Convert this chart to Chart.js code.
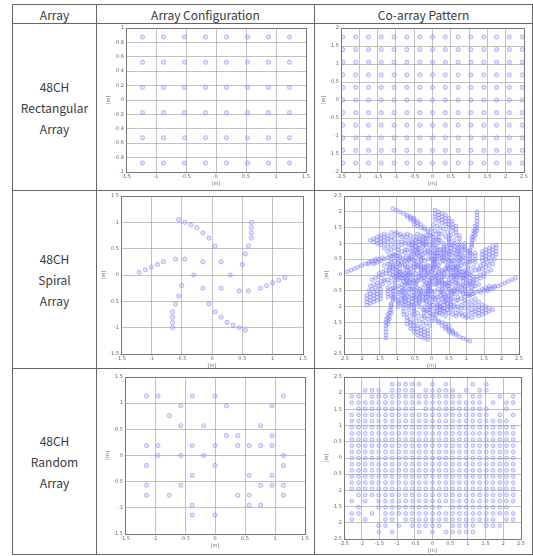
<!DOCTYPE html>
<html>
<head>
<meta charset="utf-8">
<script src="https://cdn.jsdelivr.net/npm/chart.js@4.4.0/dist/chart.umd.min.js"></script>
<style>
body { margin: 0; background: #fff; font-family: "Noto Sans CJK KR", "Noto Sans", sans-serif; color: #333; }
#wrap { position: relative; width: 533px; height: 556px; overflow: hidden; }
table { position: absolute; left: 12px; top: 4px; border-collapse: collapse; table-layout: fixed; width: 520px; }
td, th { border: 1px solid #666; padding: 0; text-align: center; font-weight: normal; font-size: 12px; color: #3a3a3a; }
.name { line-height: 21px; }
canvas.plot { position: absolute; }
</style>
</head>
<body>
<div id="wrap">
  <table>
    <col style="width:84px"><col style="width:218px"><col style="width:218px">
    <tr style="height:19px"><th>Array</th><th>Array Configuration</th><th>Co-array Pattern</th></tr>
    <tr style="height:167px"><td class="name">48CH<br>Rectangular<br>Array</td><td></td><td></td></tr>
    <tr style="height:178px"><td class="name">48CH<br>Spiral<br>Array</td><td></td><td></td></tr>
    <tr style="height:186px"><td class="name">48CH<br>Random<br>Array</td><td></td><td></td></tr>
  </table>
  <canvas class="plot" id="rectCfg"></canvas>
  <canvas class="plot" id="rectCo"></canvas>
  <canvas class="plot" id="spiralCfg"></canvas>
  <canvas class="plot" id="spiralCo"></canvas>
  <canvas class="plot" id="randomCfg"></canvas>
  <canvas class="plot" id="randomCo"></canvas>
</div>
<script>
// element positions in metres
const rectX = [-1.225, -0.875, -0.525, -0.175, 0.175, 0.525, 0.875, 1.225];
const rectY = [-0.875, -0.525, -0.175, 0.175, 0.525, 0.875];

const spiralX = [-0.55, -0.45, -0.35, -0.25, -0.15, -0.05, 0.05,
  0.65, 0.65, 0.65, 0.65, 0.6, 0.55, 0.5, 0.3, 0.15, -0.15,
  -0.45, -0.6, -0.8, -0.9, -1.0, -1.1, -1.2,
  0.55, 0.45, 0.35, 0.25, 0.15, 0.05, -0.05,
  -0.65, -0.65, -0.65, -0.65, -0.6, -0.55, -0.5, -0.3, -0.15, 0.15,
  0.45, 0.6, 0.8, 0.9, 1.0, 1.1, 1.2];
const spiralY = [1.05, 1.0, 0.95, 0.9, 0.8, 0.7, 0.55,
  1.0, 0.9, 0.8, 0.7, 0.55, 0.4, 0.2, 0, 0.25, 0.25,
  0.3, 0.3, 0.25, 0.2, 0.15, 0.1, 0.05,
  -1.05, -1.0, -0.95, -0.9, -0.8, -0.7, -0.55,
  -1.0, -0.9, -0.8, -0.7, -0.55, -0.4, -0.2, 0, -0.25, -0.25,
  -0.3, -0.3, -0.25, -0.2, -0.15, -0.1, -0.05];

const randomX = [-1.14, -0.95, -0.38, 0, 1.14,
  -0.57, 0.19, 0.95,
  -0.76,
  -0.57, -0.19, 0.76,
  0.19, 0.38, 0.95,
  -1.14, -0.95, -0.38, 0, 0.38, 0.57, 0.76, 0.95,
  -0.95, -0.57, -0.19, 1.14,
  -1.14, 0, 1.14,
  -0.38, 0.57, 0.95,
  -1.14, -0.57, 0.76, 0.95, 1.14,
  -1.14, -0.76, 0.38, 0.57, 1.14,
  -0.38, 0.57, 0.76,
  -0.38, 0];
const randomY = [1.14, 1.14, 1.14, 1.14, 1.14,
  0.95, 0.95, 0.95,
  0.76,
  0.57, 0.57, 0.57,
  0.38, 0.38, 0.38,
  0.19, 0.19, 0.19, 0.19, 0.19, 0.19, 0.19, 0.19,
  0, 0, 0, 0,
  -0.19, -0.19, -0.19,
  -0.38, -0.38, -0.38,
  -0.57, -0.57, -0.57, -0.57, -0.57,
  -0.76, -0.76, -0.76, -0.76, -0.76,
  -0.95, -0.95, -0.95,
  -1.14, -1.14];

// tick labels
const ticks10 = [-1, -0.8, -0.6, -0.4, -0.2, 0, 0.2, 0.4, 0.6, 0.8, 1];
const ticks15 = [-1.5, -1, -0.5, 0, 0.5, 1, 1.5];
const ticks20 = [-2, -1.5, -1, -0.5, 0, 0.5, 1, 1.5, 2];
const ticks25 = [-2.5, -2, -1.5, -1, -0.5, 0, 0.5, 1, 1.5, 2, 2.5];

function toPoints(xs, ys) {
  return xs.map((x, i) => ({ x: x, y: ys[i] }));
}

function gridPoints(xs, ys) {
  const pts = [];
  ys.forEach(y => xs.forEach(x => pts.push({ x: x, y: y })));
  return pts;
}

// co-array = set of all pairwise position differences
function coArray(pts) {
  const seen = new Set();
  const out = [];
  pts.forEach(a => pts.forEach(b => {
    const dx = Math.round((a.x - b.x) * 1000) / 1000;
    const dy = Math.round((a.y - b.y) * 1000) / 1000;
    const key = dx + ',' + dy;
    if (!seen.has(key)) { seen.add(key); out.push({ x: dx, y: dy }); }
  }));
  return out;
}

const framePlugin = {
  id: 'frame',
  afterDraw(chart) {
    const a = chart.chartArea, ctx = chart.ctx;
    ctx.save();
    ctx.strokeStyle = '#777';
    ctx.lineWidth = 1;
    ctx.strokeRect(Math.round(a.left) + 0.5, Math.round(a.top) + 0.5,
      Math.round(a.right - a.left), Math.round(a.bottom - a.top));
    ctx.restore();
  }
};

const yW = 20, xH = 15, padT = 5, padR = 6;

function axis(range, ticks, isX) {
  return {
    type: 'linear',
    min: range[0],
    max: range[1],
    afterBuildTicks: s => { s.ticks = ticks.map(v => ({ value: v })); },
    afterFit: s => { if (isX) s.height = xH; else s.width = yW; },
    border: { display: false },
    grid: { color: '#999', lineWidth: 0.6, borderDash: [1, 2], drawTicks: false },
    ticks: {
      autoSkip: false, maxRotation: 0, padding: 2, color: '#666',
      font: { size: 5, family: 'DejaVu Sans' },
      callback: v => String(+(+v).toFixed(2))
    },
    title: { display: true, text: '[m]', color: '#666', padding: 0, font: { size: 5, family: 'DejaVu Sans' } }
  };
}

function makePlot(id, f, pts, xr, xt, yr, yt, r) {
  const c = document.getElementById(id);
  const w = f.r - f.l + yW + padR, h = f.b - f.t + padT + xH;
  c.width = w; c.height = h;
  c.style.left = (f.l - yW) + 'px';
  c.style.top = (f.t - padT) + 'px';
  c.style.width = w + 'px';
  c.style.height = h + 'px';
  new Chart(c, {
    type: 'scatter',
    data: { datasets: [{
      data: pts,
      pointRadius: r,
      pointBorderWidth: 0.7,
      borderColor: 'rgba(100,100,255,0.6)',
      backgroundColor: 'rgba(175,175,255,0.35)'
    }] },
    options: {
      responsive: false,
      animation: false,
      devicePixelRatio: 1,
      layout: { padding: { left: 0, top: padT, right: padR, bottom: 0 } },
      plugins: { legend: { display: false }, tooltip: { enabled: false } },
      scales: { x: axis(xr, xt, true), y: axis(yr, yt, false) }
    },
    plugins: [framePlugin]
  });
}

const rectPts = gridPoints(rectX, rectY);
const spiralPts = toPoints(spiralX, spiralY);
const randomPts = toPoints(randomX, randomY);

makePlot('rectCfg', { l: 126, t: 28, r: 306, b: 172 }, rectPts, [-1.5, 1.5], ticks15, [-1, 1], ticks10, 2.1);
makePlot('rectCo', { l: 341, t: 28, r: 524, b: 172 }, coArray(rectPts), [-2.5, 2.5], ticks25, [-2, 2], ticks20, 2.1);
makePlot('spiralCfg', { l: 121, t: 196, r: 303, b: 354 }, spiralPts, [-1.5, 1.5], ticks15, [-1.5, 1.5], ticks15, 2.1);
makePlot('spiralCo', { l: 344, t: 196, r: 519, b: 354 }, coArray(spiralPts), [-2.5, 2.5], ticks25, [-2.5, 2.5], ticks25, 1.9);
makePlot('randomCfg', { l: 125, t: 377, r: 305, b: 534 }, randomPts, [-1.5, 1.5], ticks15, [-1.5, 1.5], ticks15, 2.1);
makePlot('randomCo', { l: 344, t: 377, r: 521, b: 539 }, coArray(randomPts), [-2.5, 2.5], ticks25, [-2.5, 2.5], ticks25, 1.9);
</script>
</body>
</html>
